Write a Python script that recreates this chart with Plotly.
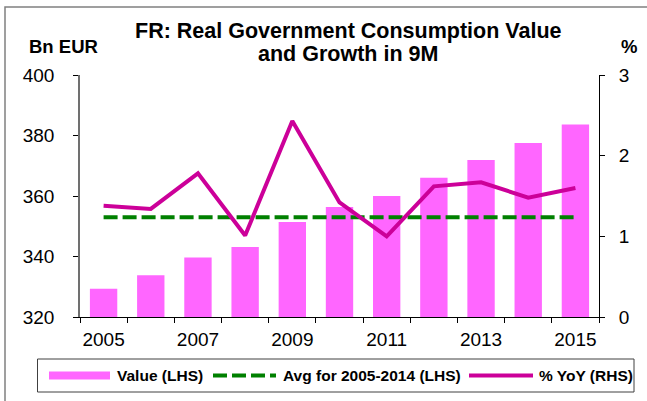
import plotly.graph_objects as go

years = [2005, 2006, 2007, 2008, 2009, 2010, 2011, 2012, 2013, 2014, 2015]
value_bn_eur = [329.3, 333.8, 339.7, 343.1, 351.4, 356.4, 360.0, 366.0, 371.9, 377.5, 383.6]
avg_2005_2014 = [353.0] * 11
yoy_pct = [1.38, 1.34, 1.78, 1.01, 2.43, 1.42, 1.00, 1.62, 1.67, 1.48, 1.60]
x_tick_labels = ["2005", "2007", "2009", "2011", "2013", "2015"]
x_tick_vals = [2005, 2007, 2009, 2011, 2013, 2015]

W, H = 647, 401
L, R, T, B = 80, 48, 75, 84
PW, PH = W - L - R, H - T - B

def px(x):
    return (x - L) / PW

def py(y):
    return (H - B - y) / PH

PINK = "#FF66FF"
MAGENTA = "#CC0099"
GREEN = "#008000"
FONT = "Liberation Sans, Arial, sans-serif"

fig = go.Figure()
fig.add_trace(go.Bar(x=years, y=value_bn_eur, width=0.58, marker=dict(color=PINK, line=dict(width=0)),
                     name="Value (LHS)", showlegend=False))
fig.add_trace(go.Scatter(x=years, y=avg_2005_2014, mode="lines", name="Avg for 2005-2014 (LHS)",
                         line=dict(color=GREEN, width=4, dash="14px,5px"), showlegend=False))
fig.add_trace(go.Scatter(x=years, y=yoy_pct, mode="lines", name="% YoY (RHS)", yaxis="y2",
                         line=dict(color=MAGENTA, width=4), showlegend=False))

shapes = []
# outer frame
shapes.append(dict(type="rect", xref="paper", yref="paper", x0=px(5), x1=px(700), y0=py(7), y1=py(450),
                   line=dict(color="#808080", width=1.5), fillcolor="rgba(0,0,0,0)", layer="below"))
# legend box
shapes.append(dict(type="rect", xref="paper", yref="paper", x0=px(37.5), x1=px(634), y0=py(359), y1=py(392),
                   line=dict(color="#404040", width=1), fillcolor="white"))
ly = 375.5
shapes.append(dict(type="line", xref="paper", yref="paper", x0=px(49), x1=px(110), y0=py(ly), y1=py(ly),
                   line=dict(color=PINK, width=8)))
shapes.append(dict(type="line", xref="paper", yref="paper", x0=px(213), x1=px(276), y0=py(ly), y1=py(ly),
                   line=dict(color=GREEN, width=4, dash="14px,5px")))
shapes.append(dict(type="line", xref="paper", yref="paper", x0=px(469), x1=px(533), y0=py(ly), y1=py(ly),
                   line=dict(color=MAGENTA, width=4)))

def ann(text, x, y, size, bold=True, xanchor="left"):
    return dict(text=f"<b>{text}</b>" if bold else text, x=px(x), y=py(y), xref="paper", yref="paper",
                xanchor=xanchor, yanchor="middle", showarrow=False,
                font=dict(family=FONT, size=size, color="black"))

annotations = [
    ann("FR: Real Government Consumption Value", 348, 31, 21.5, xanchor="center"),
    ann("and Growth in 9M", 348, 54, 21.5, xanchor="center"),
    ann("Bn EUR", 27, 46, 18.5),
    ann("%", 619, 47, 18.5),
    ann("Value (LHS)", 115, ly, 15.5),
    ann("Avg for 2005-2014 (LHS)", 281, ly, 15.5),
    ann("% YoY (RHS)", 537, ly, 15.5),
]

fig.update_layout(
    width=W, height=H,
    margin=dict(l=L, r=R, t=T, b=B, pad=0),
    paper_bgcolor="white", plot_bgcolor="white",
    font=dict(family=FONT, size=18, color="black"),
    showlegend=False,
    shapes=shapes, annotations=annotations,
    xaxis=dict(range=[2004.5, 2015.5], tickmode="array", tickvals=x_tick_vals, ticktext=x_tick_labels,
               ticks="", showgrid=False, zeroline=False, showline=True, linecolor="black", linewidth=1,
               ticklabelstandoff=5,
               minor=dict(tickmode="linear", tick0=2004.5, dtick=1, ticks="outside", ticklen=5,
                          tickcolor="black", tickwidth=1, showgrid=False),
               tickfont=dict(size=19)),
    yaxis=dict(range=[320, 400], tickvals=[320, 340, 360, 380, 400], ticks="outside", ticklen=5,
               tickcolor="black", showgrid=False, zeroline=False, showline=True, linecolor="#707070",
               linewidth=1.5, ticklabelstandoff=15, tickfont=dict(size=19)),
    yaxis2=dict(range=[0, 3], tickvals=[0, 1, 2, 3], overlaying="y", side="right", ticks="outside",
                ticklen=5, tickcolor="black", showgrid=False, zeroline=False, showline=True,
                linecolor="black", linewidth=1, ticklabelstandoff=10, tickfont=dict(size=19)),
)

fig.write_html("out.html", config={"displayModeBar": False},
               post_script="document.body.style.margin='0';document.body.style.overflow='hidden';")
